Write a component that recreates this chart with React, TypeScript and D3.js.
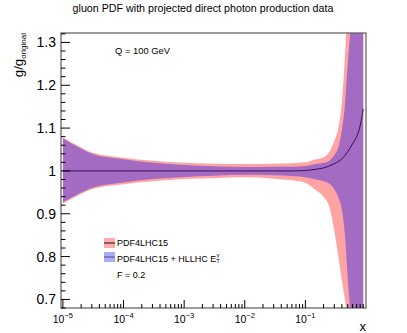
import React from 'react';
import * as d3 from 'd3';

// ---- data ----
const xValues = [1e-5, 1.8e-5, 3e-5, 1e-4, 3e-4, 1e-3, 3e-3, 1e-2, 3e-2, 6e-2, 0.1, 0.15, 0.2, 0.25, 0.3, 0.35, 0.4, 0.45, 0.5, 0.56, 0.63, 0.7, 0.8, 0.9];
const pdfUpper = [1.078, 1.058, 1.043, 1.031, 1.024, 1.019, 1.017, 1.016, 1.017, 1.018, 1.020, 1.027, 1.032, 1.045, 1.07, 1.10, 1.16, 1.27, 1.40, 1.55, 1.7, 1.9, 2.1, 2.3];
const pdfLower = [0.924, 0.943, 0.957, 0.969, 0.976, 0.981, 0.983, 0.985, 0.982, 0.978, 0.972, 0.955, 0.940, 0.915, 0.86, 0.80, 0.745, 0.70, 0.65, 0.58, 0.5, 0.4, 0.3, 0.2];
const hlUpper = [1.076, 1.055, 1.040, 1.027, 1.019, 1.014, 1.011, 1.009, 1.0095, 1.010, 1.0115, 1.016, 1.019, 1.024, 1.037, 1.055, 1.095, 1.155, 1.25, 1.34, 1.45, 1.6, 1.8, 2.0];
const hlLower = [0.927, 0.946, 0.960, 0.973, 0.981, 0.986, 0.989, 0.991, 0.990, 0.988, 0.985, 0.980, 0.976, 0.970, 0.957, 0.938, 0.91, 0.85, 0.75, 0.66, 0.58, 0.5, 0.4, 0.3];
const hlCentral = [1, 1, 1, 1, 1, 1, 1, 1, 1, 1, 1.001, 1.004, 1.007, 1.012, 1.017, 1.022, 1.028, 1.036, 1.045, 1.056, 1.068, 1.08, 1.105, 1.145];

const yTickValues = [0.7, 0.8, 0.9, 1.0, 1.1, 1.2, 1.3];
const yTickLabels = ['0.7', '0.8', '0.9', '1', '1.1', '1.2', '1.3'];
const xTickExponents = [-5, -4, -3, -2, -1];

const titleText = 'gluon PDF with projected direct photon production data';
const legendLabels = ['PDF4LHC15', 'PDF4LHC15 + HLLHC E'];

const W = 407, H = 333;
const L = 61, R = 366, T = 33, B = 308;
const FONT = '"Liberation Sans", Arial, Helvetica, sans-serif';

export default function App() {
  const x = d3.scaleLog().domain([0.93e-5, 1]).range([L, R]);
  const y = d3.scaleLinear().domain([0.68, 1.322]).range([B, T]);

  const idx = xValues.map((_, i) => i);
  const area = (up: number[], lo: number[]) =>
    d3.area<number>()
      .x(i => x(xValues[i]))
      .y0(i => y(lo[i]))
      .y1(i => y(up[i]))
      .curve(d3.curveMonotoneX)(idx) as string;
  const line = d3.line<number>()
    .x(i => x(xValues[i]))
    .y(i => y(hlCentral[i]))
    .curve(d3.curveMonotoneX)(idx) as string;

  // minor ticks
  const yMinor = d3.range(0.68, 1.3221, 0.02).map(v => Math.round(v * 100) / 100)
    .filter(v => !yTickValues.some(t => Math.abs(t - v) < 1e-6));
  const xMinor: number[] = [];
  for (let e = -6; e <= -1; e++) for (let m = 2; m <= 9; m++) {
    const v = m * Math.pow(10, e);
    if (v >= x.domain()[0] && v <= 1) xMinor.push(v);
  }

  return (
    <svg width={W} height={H} style={{ position: 'absolute', left: 0, top: 0, background: '#fff' }} fontFamily={FONT}>
      <defs>
        <clipPath id="plot"><rect x={L} y={T} width={R - L} height={B - T} /></clipPath>
      </defs>
      <rect x={0} y={0} width={W} height={H} fill="#fff" />
      <text x={203} y={11.5} fontSize={10.7} textAnchor="middle" fill="#000">{titleText}</text>

      <g clipPath="url(#plot)">
        <path d={area(pdfUpper, pdfLower)} fill="#ffa3a3" />
        <path d={area(hlUpper, hlLower)} fill="#a46bc3" />
        <path d={line} fill="none" stroke="#3c0b5c" strokeWidth={1} />
      </g>

      {/* frame */}
      <rect x={L} y={T} width={R - L} height={B - T} fill="none" stroke="#5a5a5a" strokeWidth={1.2} />

      {/* y axis ticks */}
      {yTickValues.map((v, i) => (
        <g key={'yt' + i}>
          <line x1={L} x2={L + 9} y1={y(v)} y2={y(v)} stroke="#000" strokeWidth={1} />
          <text x={56} y={y(v) + 5} fontSize={14} textAnchor="end" fill="#000">{yTickLabels[i]}</text>
        </g>
      ))}
      {yMinor.map((v, i) => (
        <line key={'ym' + i} x1={L} x2={L + 4.5} y1={y(v)} y2={y(v)} stroke="#000" strokeWidth={1} />
      ))}

      {/* x axis ticks */}
      {xTickExponents.map(e => {
        const px = x(Math.pow(10, e));
        return (
          <g key={'xt' + e}>
            <line x1={px} x2={px} y1={B} y2={B - 8} stroke="#000" strokeWidth={1} />
            <text x={px} y={322.5} fontSize={10.5} textAnchor="middle" fill="#000">
              10<tspan dy={-5} fontSize={7.5}>{'\u2212' + Math.abs(e)}</tspan>
            </text>
          </g>
        );
      })}
      {xMinor.map((v, i) => (
        <line key={'xm' + i} x1={x(v)} x2={x(v)} y1={B} y2={B - 4} stroke="#000" strokeWidth={1} />
      ))}

      {/* axis titles */}
      <text x={R} y={331} fontSize={13} textAnchor="end" fill="#000">x</text>
      <text transform={`translate(22.6, ${T}) rotate(-90)`} fontSize={13.2} textAnchor="end" fill="#000">
        g/g<tspan dy={3} fontSize={8}>original</tspan>
      </text>

      <text x={115} y={53.5} fontSize={9.4} fill="#000">Q = 100 GeV</text>

      {/* legend */}
      <rect x={104} y={238} width={11} height={10} fill="#ffaaaa" />
      <line x1={104} x2={115} y1={243} y2={243} stroke="#111" strokeWidth={1} />
      <rect x={104} y={252} width={11} height={10} fill="#aaaaff" />
      <line x1={104} x2={115} y1={257} y2={257} stroke="#4a4a70" strokeWidth={1} />
      <text x={117} y={245.5} fontSize={9} fill="#000">{legendLabels[0]}</text>
      <text x={117} y={262} fontSize={9} fill="#000">
        {legendLabels[1]}
        <tspan fontSize={6} dy={1}>T</tspan>
        <tspan fontSize={6} dx={-3.5} dy={-6}>γ</tspan>
      </text>
      <text x={117} y={278.3} fontSize={9} fill="#000">F = 0.2</text>
    </svg>
  );
}
